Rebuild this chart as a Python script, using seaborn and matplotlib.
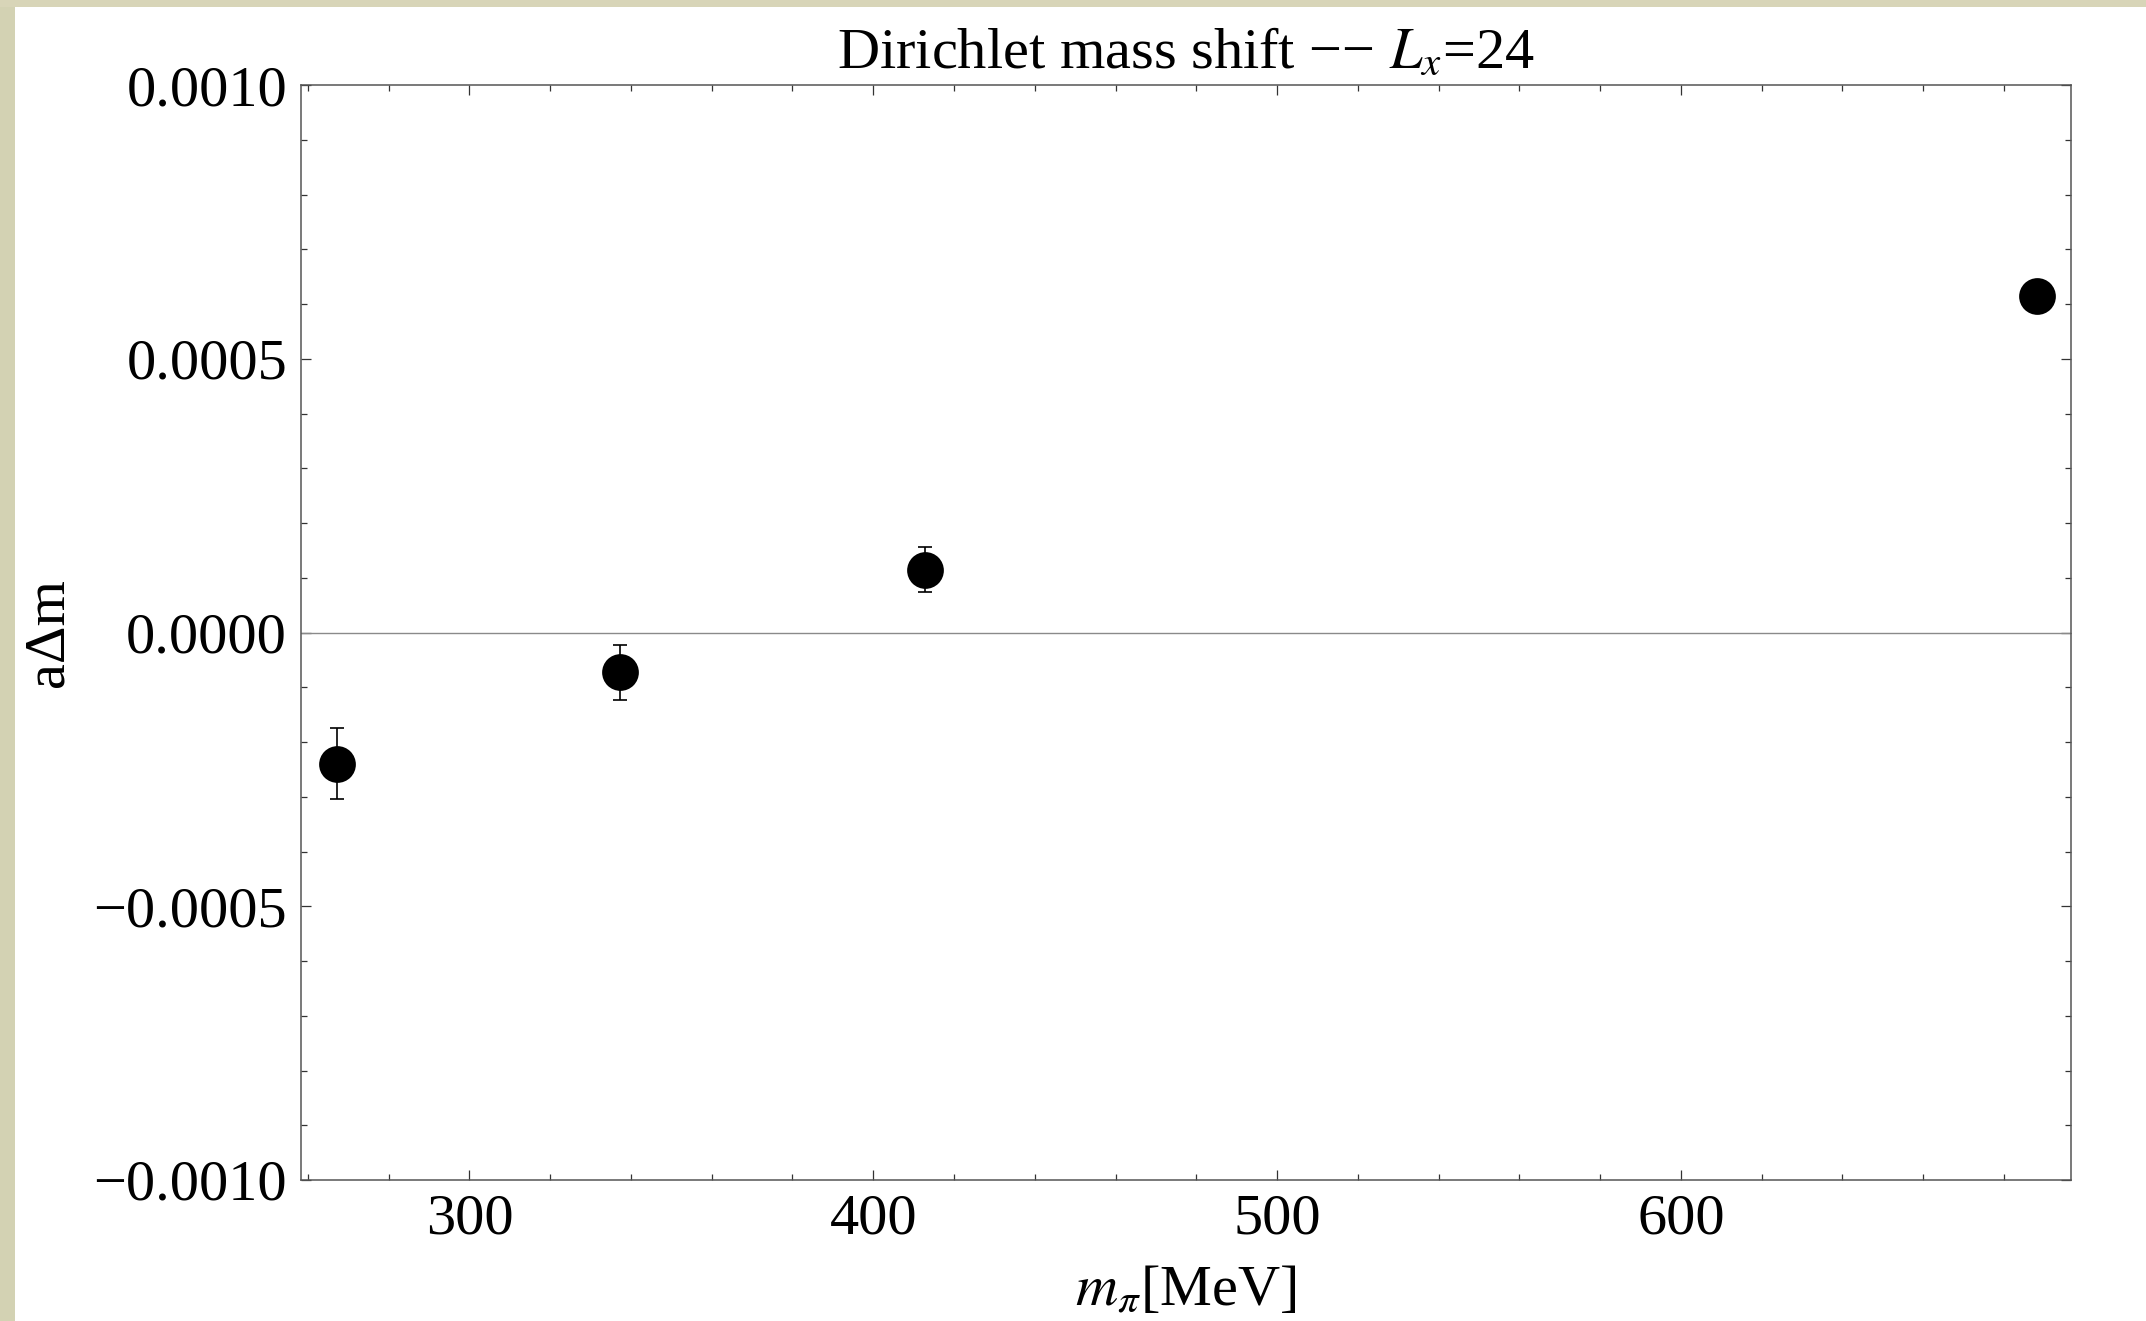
import numpy as np
import pandas as pd
import matplotlib
matplotlib.use("Agg")
import matplotlib.pyplot as plt
import seaborn as sns
from matplotlib.patches import Rectangle
from matplotlib.ticker import MultipleLocator

# ---- data ----
m_pi = [267.1, 337.3, 412.9, 688.1]
delta_m = [-0.000240, -0.0000730, 0.000115, 0.000615]
delta_m_err = [0.000065, 0.000051, 0.000041, 0.000010]

x_ticks = [300, 400, 500, 600]
y_ticks = [-0.0010, -0.0005, 0.0, 0.0005, 0.0010]
y_tick_labels = ["\u22120.0010", "\u22120.0005", "0.0000", "0.0005", "0.0010"]

title = "Dirichlet mass shift \u2212\u2212 $L_x$=24"
xlabel = "$m_\\pi$[MeV]"
ylabel = "a\u0394m"

df = pd.DataFrame({"m_pi": m_pi, "dm": delta_m, "err": delta_m_err})

sns.set_theme(style="ticks")
plt.rcParams["font.family"] = ["Liberation Serif", "DejaVu Serif"]
plt.rcParams["mathtext.fontset"] = "stix"
for k in ["text.color", "axes.labelcolor", "xtick.color", "ytick.color"]:
    plt.rcParams[k] = "black"

FS = 42
fig = plt.figure(figsize=(21.46, 13.21), dpi=100, facecolor="white")
# beige textured border strips (left and top)
fig.patches.append(Rectangle((0, 0), 15 / 2146, 1, transform=fig.transFigure,
                             facecolor="#D3D2B3", edgecolor="none", zorder=-10))
fig.patches.append(Rectangle((0, 1 - 7 / 1321), 1, 7 / 1321, transform=fig.transFigure,
                             facecolor="#D8D5B8", edgecolor="none", zorder=-10))

ax = fig.add_axes([301 / 2146, 1 - 1180 / 1321, (2071 - 301) / 2146, (1180 - 85) / 1321])
ax.set_facecolor("white")

ax.axhline(0, color="#8a8a8a", lw=1.0, zorder=1)
ax.errorbar(df["m_pi"], df["dm"], yerr=df["err"], fmt="none", ecolor="black",
            elinewidth=1.2, capsize=5, capthick=1.2, zorder=2)
sns.scatterplot(data=df, x="m_pi", y="dm", ax=ax, s=700, color="black",
                edgecolor="black", linewidth=0, zorder=3, legend=False)

ax.set_xlim(258.3, 696.6)
ax.set_ylim(-0.0010, 0.0010)
ax.set_xticks(x_ticks)
ax.set_xticklabels([str(v) for v in x_ticks], fontsize=FS)
ax.set_yticks(y_ticks)
ax.set_yticklabels(y_tick_labels, fontsize=FS)
ax.xaxis.set_minor_locator(MultipleLocator(20))
ax.yaxis.set_minor_locator(MultipleLocator(0.0001))

ax.tick_params(which="both", direction="in", top=True, right=True, color="#333333", width=0.9)
ax.tick_params(which="major", length=7, pad=10)
ax.tick_params(which="minor", length=4)
for s in ax.spines.values():
    s.set_color("#555555")
    s.set_linewidth(1.1)

ax.set_xlabel(xlabel, fontsize=FS, labelpad=14)
ax.set_ylabel(ylabel, fontsize=FS, labelpad=14)
ax.set_title(title, fontsize=FS, pad=12)

fig.savefig("out.png", dpi=100, facecolor="white")
